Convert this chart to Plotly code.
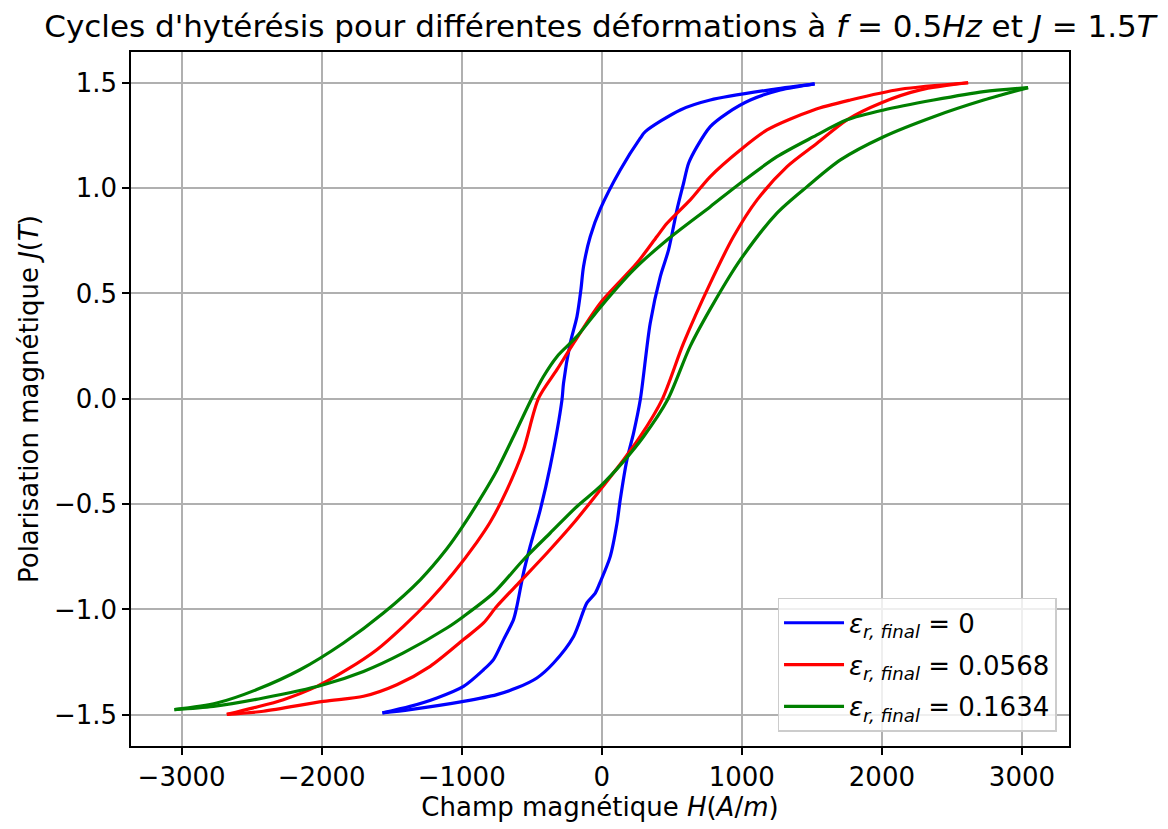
import plotly.graph_objects as go

# ---- data (H in A/m, J in T) ----
# descending branches (from +tip to -tip)
blue_down_H = [1520, 1227, 775, 561, 311, 275, 132, -11, -82, -130, -149, -177, -225, -273, -284,
               -368, -439, -511, -559, -606, -630, -701, -773, -844, -987, -1177, -1368, -1566]
blue_down_J = [1.495, 1.469, 1.418, 1.371, 1.268, 1.237, 1.086, 0.900, 0.770, 0.628, 0.517, 0.390,
               0.264, 0.074, -0.005, -0.321, -0.527, -0.700, -0.827, -0.985, -1.048, -1.143, -1.238,
               -1.286, -1.365, -1.420, -1.460, -1.491]
# ascending branches (from -tip to +tip)
blue_up_H = [-1566, -1368, -987, -749, -606, -463, -344, -201, -106, -46, -11, 61, 109, 132, 180, 227,
             275, 346, 418, 477, 537, 584, 620, 680, 775, 894, 1061, 1275, 1520]
blue_up_J = [-1.491, -1.475, -1.436, -1.404, -1.372, -1.325, -1.254, -1.128, -0.969, -0.922, -0.870,
             -0.748, -0.590, -0.479, -0.289, -0.163, -0.005, 0.359, 0.580, 0.707, 0.897, 1.023,
             1.118, 1.197, 1.292, 1.355, 1.418, 1.466, 1.495]

red_down_H = [2616, 2132, 1775, 1513, 1180, 989, 775, 632, 466, 394, 251, -11, -201, -320, -451,
              -559, -677, -796, -891, -1059, -1225, -1416, -1606, -1820, -2034, -2273, -2487, -2677]
red_down_J = [1.500, 1.469, 1.418, 1.371, 1.276, 1.181, 1.055, 0.944, 0.833, 0.770, 0.644, 0.454,
              0.264, 0.138, 0.003, -0.242, -0.432, -0.585, -0.680, -0.827, -0.954, -1.080, -1.191,
              -1.286, -1.365, -1.428, -1.467, -1.498]
red_up_H = [-2677, -2416, -1987, -1701, -1463, -1225, -987, -844, -749, -582, -391, -201, -11, 156, 275,
            430, 584, 775, 941, 1109, 1323, 1537, 1751, 1989, 2275, 2616]
red_up_J = [-1.498, -1.483, -1.436, -1.412, -1.357, -1.270, -1.143, -1.064, -0.985, -0.867, -0.732,
            -0.590, -0.432, -0.289, -0.179, -0.005, 0.264, 0.549, 0.770, 0.944, 1.102, 1.213,
            1.324, 1.403, 1.466, 1.500]

green_down_H = [3044, 2727, 2370, 2013, 1751, 1513, 1251, 989, 775, 466, 227, -11, -177, -320, -416,
                -499, -630, -749, -868, -987, -1106, -1296, -1559, -1844, -2154, -2463, -2749, -3051]
green_down_J = [1.477, 1.458, 1.418, 1.371, 1.324, 1.244, 1.149, 1.023, 0.912, 0.754, 0.612, 0.434,
                0.296, 0.200, 0.106, 0.003, -0.179, -0.340, -0.475, -0.600, -0.712, -0.859, -1.017,
                -1.159, -1.286, -1.380, -1.444, -1.475]
green_up_H = [-3051, -2773, -2416, -1987, -1701, -1416, -1106, -987, -773, -559, -368, -177, -11, 156, 299,
              470, 632, 799, 989, 1251, 1466, 1704, 2013, 2370, 2727, 3044]
green_up_J = [-1.475, -1.460, -1.420, -1.357, -1.294, -1.206, -1.088, -1.033, -0.922, -0.764, -0.637,
              -0.511, -0.416, -0.297, -0.179, -0.005, 0.250, 0.454, 0.659, 0.881, 1.007, 1.134,
              1.244, 1.339, 1.418, 1.477]

labels = ["<i>ε</i><sub><i>r, final</i></sub> = 0",
          "<i>ε</i><sub><i>r, final</i></sub> = 0.0568",
          "<i>ε</i><sub><i>r, final</i></sub> = 0.1634"]
colors = ["#0000ff", "#ff0000", "#008000"]

x_ticks = [-3000, -2000, -1000, 0, 1000, 2000, 3000]
y_ticks = [-1.5, -1.0, -0.5, 0.0, 0.5, 1.0, 1.5]

FONT = "DejaVu Sans"

series = [
    (blue_down_H, blue_down_J, blue_up_H, blue_up_J),
    (red_down_H, red_down_J, red_up_H, red_up_J),
    (green_down_H, green_down_J, green_up_H, green_up_J),
]

fig = go.Figure()
for k, ((dH, dJ, uH, uJ), lab, col) in enumerate(zip(series, labels, colors)):
    for j, (H, J) in enumerate([(dH, dJ), (uH, uJ)]):
        fig.add_trace(go.Scatter(x=H, y=J, mode="lines", name=lab,
                                 legendgroup=f"g{k}", showlegend=(j == 0),
                                 line=dict(color=col, width=3.2, shape="spline", smoothing=0.8)))

axis_common = dict(
    showline=True, linecolor="black", linewidth=1.5, mirror=True,
    ticks="outside", ticklen=7, tickwidth=1.5, tickcolor="black",
    showgrid=True, gridcolor="#b0b0b0", gridwidth=1.5, zeroline=False,
    tickfont=dict(family=FONT, size=26, color="black"),
)

fig.update_layout(
    width=1160, height=821,
    paper_bgcolor="white", plot_bgcolor="white",
    margin=dict(l=123, r=99, t=44, b=83),
    font=dict(family=FONT, color="black"),
    title=dict(text="Cycles d'hytérésis pour différentes déformations à <i>f</i> = 0.5<i>Hz</i> et <i>J</i> = 1.5<i>T</i>",
               x=0.5, xref="paper", xanchor="center", y=0.978, yref="container", yanchor="middle",
               font=dict(family=FONT, size=31, color="black")),
    xaxis=dict(range=[-3361, 3336], tickvals=x_ticks,
               title=dict(text="Champ magnétique <i>H</i>(<i>A</i>/<i>m</i>)",
                          font=dict(family=FONT, size=26, color="black"), standoff=2),
               **axis_common),
    yaxis=dict(range=[-1.648, 1.646], tickvals=y_ticks, tickformat=".1f",
               title=dict(text="Polarisation magnétique <i>J</i>(<i>T</i>)",
                          font=dict(family=FONT, size=26, color="black"), standoff=8),
               **axis_common),
    legend=dict(x=0.9867, y=0.0204, xanchor="right", yanchor="bottom",
                bgcolor="rgba(255,255,255,0.8)", bordercolor="#cccccc", borderwidth=1.5,
                font=dict(family=FONT, size=26, color="black"), itemwidth=60,
                traceorder="grouped", tracegroupgap=5),
    showlegend=True,
)

fig.write_html("out.html")
